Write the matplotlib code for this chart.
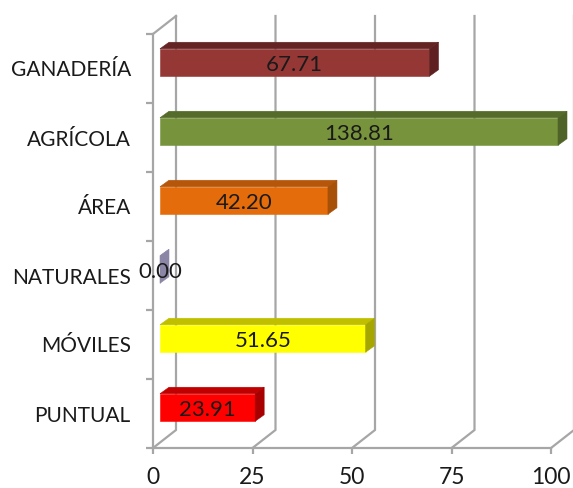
import numpy as np
import matplotlib
matplotlib.use('Agg')
import matplotlib.pyplot as plt
from matplotlib.patches import Polygon

# categories, bottom to top
categories=['PUNTUAL','MÓVILES','NATURALES','ÁREA','AGRÍCOLA','GANADERÍA']
values=[23.91,51.65,0.00,42.20,138.81,67.71]
labels=['23.91','51.65','0.00','42.20','138.81','67.71']
xticks=[0,25,50,75,100]

front_colors=['#FF0000','#FFFF00','#8C86A6','#E46C0A','#77933C','#953735']
top_colors=['#C00000','#BFBF00','#8C86A6','#B5560A','#556B2A','#632423']
side_colors=['#A80000','#A6A600','#8C86A6','#A65008','#4F6228','#5E2020']

W,H=573,488
plt.rcParams['font.family']=['Lato','DejaVu Sans']
fig=plt.figure(figsize=(W/100,H/100),dpi=100)
ax=fig.add_axes([153/W,(H-448)/H,(551-153)/W,(448-34)/H])
xmax=100.
ax.set_xlim(0,xmax)
ax.set_ylim(-0.5,5.5)

# pixel sizes turned into data units
ux=xmax/(551-153.)
uy=6./(448-34.)
wall_dx,wall_dy=23*ux,18*uy
shift_x,shift_y=7*ux,6*uy
depth_x,depth_y=9*ux,6.5*uy
bar_h=27.5*uy

grey='#A6A6A6'
# back wall, floor lines and the left side wall
for v in xticks:
    ax.plot([v,v+wall_dx,v+wall_dx],[-0.5,-0.5+wall_dy,5.5+wall_dy],color=grey,lw=1.6,
            clip_on=False,zorder=1,solid_joinstyle='miter')
ax.plot([0,wall_dx],[5.5,5.5+wall_dy],color=grey,lw=1.6,clip_on=False,zorder=1)

# 3d bars: front face from barh, top and side faces as polygons
ypos=np.arange(len(categories))
widths=np.minimum(values,xmax)
ax.barh(ypos+shift_y,widths,height=bar_h,left=shift_x,color=front_colors,edgecolor=front_colors,
        linewidth=0.4,clip_on=False,zorder=3)
for y,w,lab,c_top,c_side in zip(ypos,widths,labels,top_colors,side_colors):
    x0,x1=shift_x,shift_x+w
    yb,yt=y+shift_y-bar_h/2,y+shift_y+bar_h/2
    ax.add_patch(Polygon([(x0,yt),(x1,yt),(x1+depth_x,yt+depth_y),(x0+depth_x,yt+depth_y)],
                         fc=c_top,ec=c_top,lw=0.4,clip_on=False,zorder=3))
    ax.add_patch(Polygon([(x1,yb),(x1+depth_x,yb+depth_y),(x1+depth_x,yt+depth_y),(x1,yt)],
                         fc=c_side,ec=c_side,lw=0.4,clip_on=False,zorder=3))
    ax.text(x0+w/2,y+shift_y-0.03,lab,ha='center',va='center',fontsize=16,color='#1A1A1A',zorder=5)

for s in ['top','right']:
    ax.spines[s].set_visible(False)
for s in ['left','bottom']:
    ax.spines[s].set_color(grey)
    ax.spines[s].set_linewidth(1.6)

ax.set_xticks(xticks)
ax.set_xticklabels([str(v) for v in xticks])
ax.tick_params(axis='x',length=4,width=1.6,color=grey,pad=10,labelsize=16.5,labelcolor='#1A1A1A')
# ticks sit between categories, labels in the middle of each band
ax.set_yticks(np.arange(-0.5,6.,1.))
ax.set_yticklabels([])
ax.set_yticks(ypos,minor=True)
ax.set_yticklabels(categories,minor=True)
ax.tick_params(axis='y',which='major',length=5,width=1.6,color=grey)
ax.tick_params(axis='y',which='minor',length=0,pad=16,labelsize=15,labelcolor='#1A1A1A')

fig.savefig('out.png',dpi=100)
